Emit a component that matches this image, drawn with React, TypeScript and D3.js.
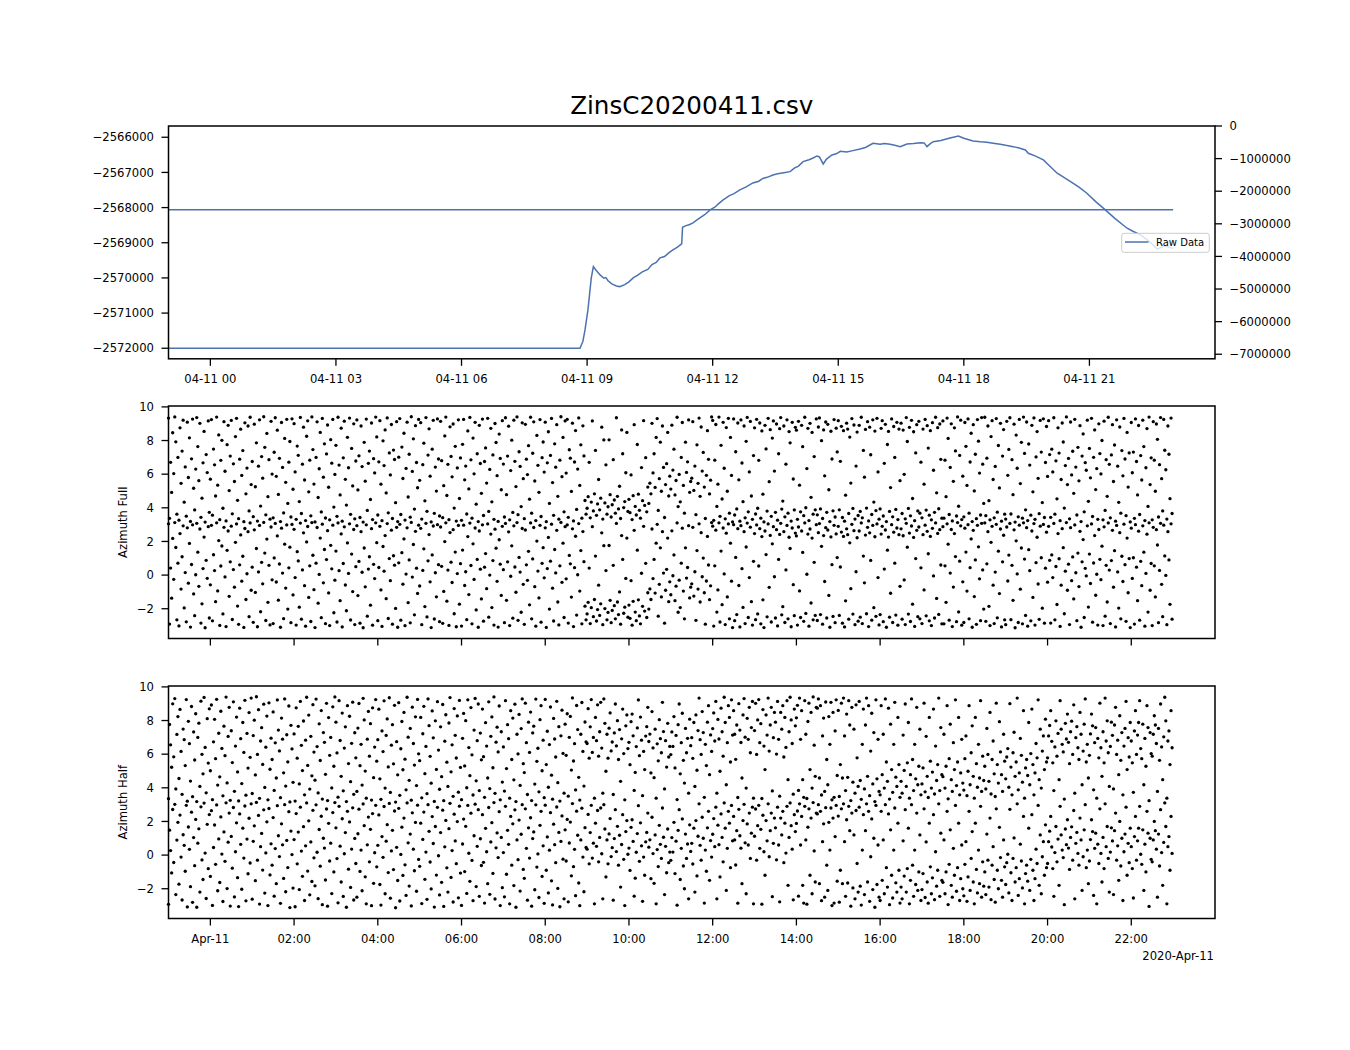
import React from "react"
import * as d3 from "d3"

// Raw data trace: hours since 2020-04-11 00:00 (UTC) and raw values
const rawHours = [
  -1.0, 8.83, 8.9, 8.95, 9.02, 9.1, 9.15, 9.2, 9.31, 9.4, 9.45, 9.5, 9.59, 9.7, 9.78, 9.9,
  10.0, 10.1, 10.2, 10.33, 10.45, 10.55, 10.65, 10.74, 10.85, 10.95, 11.05, 11.15, 11.26, 11.28,
  11.35, 11.45, 11.53, 11.65, 11.8, 11.94, 12.05, 12.15, 12.25, 12.4, 12.5, 12.65, 12.8, 12.96,
  13.1, 13.2, 13.3, 13.44, 13.55, 13.7, 13.85, 13.95, 14.05, 14.16, 14.3, 14.4, 14.49, 14.55,
  14.64, 14.72, 14.85, 14.95, 15.05, 15.2, 15.35, 15.52, 15.65, 15.83, 16.0, 16.1, 16.24, 16.35,
  16.48, 16.64, 16.8, 16.96, 17.05, 17.12, 17.2, 17.27, 17.45, 17.67, 17.87, 18.0, 18.22, 18.4,
  18.55, 18.7, 18.87, 19.0, 19.18, 19.3, 19.47, 19.54, 19.7, 19.9, 20.05, 20.23, 20.4, 20.55,
  20.75, 20.94, 21.15, 21.38, 21.6, 21.9, 22.05, 22.22, 22.45, 22.62, 22.8, 23.0,
]
const rawValues = [
  -2572000, -2572000, -2571800, -2571480, -2570910, -2570000, -2569680, -2569760, -2569915, -2570010,
  -2569990, -2570080, -2570171, -2570230, -2570247, -2570190, -2570110, -2570000, -2569930, -2569821,
  -2569760, -2569620, -2569560, -2569431, -2569390, -2569290, -2569204, -2569130, -2569033, -2568559,
  -2568520, -2568480, -2568436, -2568330, -2568210, -2568067, -2567990, -2567880, -2567783, -2567660,
  -2567610, -2567498, -2567410, -2567299, -2567250, -2567170, -2567140, -2567072, -2567040, -2567010,
  -2566978, -2566880, -2566820, -2566694, -2566640, -2566590, -2566532, -2566560, -2566759, -2566620,
  -2566503, -2566470, -2566400, -2566418, -2566380, -2566333, -2566290, -2566171, -2566200, -2566180,
  -2566199, -2566230, -2566267, -2566190, -2566180, -2566154, -2566160, -2566267, -2566180, -2566125,
  -2566090, -2566020, -2565963, -2566030, -2566105, -2566130, -2566142, -2566170, -2566199, -2566230,
  -2566267, -2566300, -2566361, -2566455, -2566530, -2566645, -2566820, -2567023, -2567150, -2567262,
  -2567420, -2567592, -2567830, -2568067, -2568300, -2568587, -2568680, -2568778, -2568980, -2569180,
  -2569090, -2569160,
]

// Azimuth samples (radians, -pi..pi), one every 90 s from 2020-04-10 23:00 (UTC)
const azimuthFull = [
  3.05, -2.91, 0.42, -1.37, 2.18, -0.25, 3.12, 1.64, -2.66, 0.71, -3.02, 2.47, -0.83, 1.09, 2.93, -1.95, 0.15, -2.78, 2.81, -0.48,
  1.88, -3.09, 0.63, 2.99, -1.12, -2.41, 0.02, 3.08, 1.36, -0.67, 2.74, -2.85, -1.71, 0.39, 2.26, -3.13, 0.88, -0.19, 2.88, -2.55,
  -0.58, 2.96, -2.72, 1.21, 0.27, -1.58, 3.11, -0.94, 2.05, -2.99, 0.54, 1.73, -2.31, 2.84, -0.11, -3.06, 1.47, 2.62, -1.26, 0.79,
  2.91, -2.64, 0.33, -0.72, 1.95, 3.04, -1.84, -2.93, 0.61, 2.39, -0.36, 1.12, -3.11, 2.77, -1.45, 0.08, 2.58, -2.47, 3.1, -0.9,
  0.47, -2.81, 2.69, -1.03, 1.58, -3.07, 0.19, 2.95, -2.18, 0.76, -0.52, 3.13, 1.31, -2.7, 2.14, -1.62, 0.58, -2.96, 2.86, -0.28,
  -2.88, 1.02, 3.07, -0.41, 2.33, -1.49, 0.66, -3.1, 2.79, 0.12, -2.59, 1.84, -0.77, 2.98, -2.02, 0.43, 1.66, -2.83, 3.01, -1.18,
  2.72, -0.15, -2.97, 1.39, 0.84, -1.91, 3.09, -2.62, 0.31, 2.51, -0.63, -3.04, 1.97, 2.89, -1.33, 0.55, -2.76, 3.12, 1.18, -0.87,
  -3.12, 0.71, 2.83, -1.67, 0.04, 2.2, -2.53, 3.03, -0.46, 1.52, -2.89, 0.92, 2.64, -1.06, -3.0, 1.77, 0.37, 2.97, -2.24, -0.3,
  1.43, -2.79, 3.1, 0.26, -1.52, 2.45, -3.08, 0.69, 2.87, -0.59, -2.12, 1.91, 0.1, 3.05, -2.67, 1.25, -0.98, 2.71, -2.94, 0.5,
  2.94, -1.22, 0.81, -2.86, 2.58, 0.17, -3.13, 1.61, -0.7, 2.99, -2.44, 0.36, 1.09, -1.79, 2.76, -2.98, 0.64, -0.21, 3.11, 1.93,
  -2.71, 0.45, 2.9, -0.88, -3.05, 1.7, 0.23, 2.35, -1.4, 3.06, -2.58, 0.98, -0.33, 2.67, -2.92, 1.15, 0.59, -1.98, 2.84, -3.1,
  0.73, 3.02, -2.68, 1.33, -0.54, 2.15, -3.01, 0.06, 2.81, -1.64, 0.9, -2.84, 3.13, -0.12, 1.82, -2.36, 2.6, 0.41, -1.09, 2.97,
  -0.65, 2.78, -2.95, 0.28, 1.56, -1.87, 3.08, -2.49, 0.85, 2.41, -0.4, -3.12, 1.2, 2.92, -2.61, 0.14, -1.29, 3.0, 0.62, -2.77,
  2.86, 0.52, -2.87, -0.97, 1.99, 3.11, -1.55, 0.3, -2.99, 2.53, 0.77, -0.44, 2.7, -2.3, 1.37, -3.07, 0.09, 2.95, -1.73, 0.68,
  -3.03, 1.49, 2.97, -0.62, 0.2, -2.65, 2.29, -1.16, 3.09, 0.57, -2.9, 1.86, -0.26, 2.8, -2.07, 0.93, -3.1, 2.62, 0.35, -1.42,
  2.99, -2.74, 0.47, 1.28, -0.81, 3.04, -2.5, 0.0, 2.44, -1.93, 0.86, -2.97, 2.73, 1.6, -0.37, -3.09, 2.1, 0.65, -1.21, 2.9,
  0.32, -2.83, 3.07, -1.5, 0.79, 2.57, -3.0, -0.07, 1.74, -2.56, 2.93, 0.48, -1.02, 3.12, -2.69, 1.05, 0.18, -2.21, 2.77, -0.55,
  -2.93, 2.68, 0.61, -0.31, 1.41, -1.77, 3.1, -2.6, 0.96, 2.83, -0.69, -3.04, 2.02, 0.24, -1.36, 2.96, -2.8, 0.7, 1.63, -0.16,
  2.81, -3.11, 0.39, 2.24, -2.02, 0.83, 3.03, -0.78, -2.73, 1.52, 0.13, 2.66, -1.6, -2.96, 0.55, 3.13, -0.43, 1.9, -2.52, 2.88,
  -0.22, 2.98, -2.85, 1.17, 0.67, -1.31, 2.75, -3.06, 0.44, 2.31, -2.38, 0.02, 3.06, -0.95, 1.46, -2.9, 2.59, 0.8, -1.85, -2.66,
  -2.31, -1.62, 0.42, -2.88, -1.94, 2.88, -2.47, -1.45, 1.13, -2.73, -2.05, -0.6, -2.4, -1.71, 2.51, -2.95, 1.75, -1.99, 0.27, -2.66,
  -2.22, 1.76, -1.5, -2.83, -2.1, 0.58, -1.82, -2.6, 3.07, -1.6, -2.35, -1.0, -2.92, 2.35, 0.93, -2.27, -1.91, -0.2, 2.2, -2.5,
  -1.78, -2.57, -0.33, -2.98, -1.56, 2.66, -2.2, -2.71, 1.48, -1.47, -2.43, -2.9, 0.11, -1.86, 2.9, -2.14, 0.7, -2.52, -1.05, -2.02,
  -0.82, -1.45, 2.74, -0.21, 0.93, -1.07, 1.9, 3.02, -2.44, -0.55, 1.62, -1.3, 2.58, 0.12, -2.86, -0.9, 0.34, 2.2, -1.58, -0.4,
  -1.17, 2.63, -0.04, 1.2, -1.52, -0.66, 3.1, -2.21, -0.3, -1.93, 0.71, 2.79, -0.95, -2.6, 1.62, -0.18, 0.45, 2.94, -1.36, -0.72,
  -0.52, 2.84, -1.25, 0.2, -2.69, 1.46, -0.83, 3.05, -1.6, 2.52, -0.1, 1.01, -1.05, -2.92, -0.35, 2.3, 0.6, -1.46, -0.64, 3.12,
  2.91, -3.03, 0.55, 2.67, -2.2, -0.88, 3.11, -2.79, 1.43, -1.76, 2.8, 0.07, -2.94, 2.49, -1.3, 3.04, -2.6, 1.9, -0.36, -3.12,
  3.0, -2.71, 1.05, -2.35, 2.76, -0.62, -3.08, 2.94, 0.38, -1.92, 2.58, -2.88, 1.67, 3.09, -2.52, -0.15, 2.85, -1.58, -2.97, 0.82,
  2.47, -2.65, 2.98, -2.31, 0.54, 2.76, -2.9, 2.29, -1.47, -3.12, 2.62, 1.22, -2.48, 3.04, -0.73, 2.36, -2.79, 1.86, 2.88, -0.1,
  -2.55, 2.7, -3.02, 0.93, 2.42, 3.08, -2.36, -1.88, 2.58, -2.82, 0.31, 2.95, -2.6, 2.25, 1.58, -3.07, 2.8, -0.57, -2.41, 2.5,
  2.33, -2.97, 2.86, -0.94, -2.52, 2.62, 1.35, -2.75, 3.1, -2.28, 0.05, 2.44, -3.04, 2.74, -1.66, 2.2, -2.66, 0.76, -2.4, 3.0,
  -2.7, 2.52, 3.06, -2.35, 1.71, -2.92, 2.35, -0.38, 2.82, -2.55, 2.68, -1.21, -3.1, 2.27, 0.62, -2.46, 2.96, -2.83, 2.45, 1.04,
  2.9, -2.4, 0.48, 2.56, -2.86, 2.3, -3.08, -1.53, 2.75, 2.4, -2.62, 1.92, -0.81, 3.02, -2.32, 2.64, -2.95, 0.2, 2.22, -2.74,
  2.62, -2.5, 3.1, -2.88, 1.13, -0.46, 2.38, -2.3, 2.84, -3.06, 2.51, 0.87, -2.68, 2.95, -1.94, 2.28, -2.45, 3.04, -0.15, -2.96,
  -2.35, 2.44, 2.9, -2.77, 0.36, 2.68, -3.1, 1.48, 2.26, -2.5, -1.08, 3.0, -2.82, 2.55, 0.71, -2.38, 2.8, -2.98, 2.4, -0.67,
  2.75, -2.62, 2.34, -0.29, -2.94, 3.08, 1.66, -2.32, 2.5, -2.76, 2.92, -1.73, 2.24, -3.05, 0.98, 2.66, -2.47, 2.86, -2.6, 0.43,
  -2.88, 2.4, -0.88, 2.97, -2.42, 2.6, 1.27, -2.72, 2.3, -3.0, 2.78, -0.05, -2.55, 3.1, -1.39, 2.48, -2.34, 2.7, 0.6, -2.9,
  2.88, -2.9, 0.55, -1.62, 3.05, 1.84, -2.68, 0.12, 2.71, -3.06, -0.71, 2.47, 1.1, -2.77, 3.12, -2.19, 0.83, 2.93, -2.98, -0.4,
  -2.82, 2.79, 1.37, -0.95, 3.0, -2.6, 0.44, 2.15, -3.1, 2.66, -1.28, 0.9, -2.93, 2.96, 1.68, -0.22, -2.71, 3.08, 0.31, -2.02,
  3.1, -2.75, 0.67, 2.58, -1.86, -3.0, 1.95, 2.9, -0.6, -2.88, 0.18, 3.02, -2.54, 1.42, -1.1, 2.74, -3.08, 0.79, 2.37, -2.66,
  -2.95, 2.86, -0.35, 1.19, 3.07, -2.65, 0.58, -1.5, 2.69, -3.13, 2.04, 0.07, -2.82, 2.97, -0.84, 1.61, -2.9, 3.11, 0.95, -2.4,
  2.82, -3.04, 1.51, 0.26, -2.72, 2.62, -1.33, 3.06, -2.97, 0.74, 2.25, -0.53, -2.63, 2.91, 1.03, -1.97, 3.01, -2.86, 0.41, 2.55,
  -0.42, 2.9, 0.88, -2.85, 1.2, -0.15, 3.07, -2.66, 0.51, -1.75, 2.47, 0.97, -3.05, -0.6, 2.76, 1.63, -2.3, 0.23, 3.12, -0.9,
  0.65, -2.94, 2.82, -0.33, 1.08, -1.42, 2.98, 0.14, -2.71, 1.31, -0.68, 2.6, -3.1, 0.79, 2.11, -2.52, 0.4, -0.05, 2.93, -1.9,
  1.25, -0.5, 3.04, -2.8, 0.72, 2.35, -1.2, 0.05, -2.97, 2.71, 0.94, -0.27, 1.72, -3.0, 2.87, -2.44, 0.58, -1.6, 3.1, 0.3,
  -2.88, 0.86, 2.66, -0.72, 1.45, -3.08, 2.95, 0.19, -1.96, 2.52, -2.6, 1.12, -0.38, 3.03, 0.62, -2.75, 2.2, -1.05, 0.98, -3.12,
  2.79, -0.2, 1.03, -2.91, 3.0, 0.47, -1.52, 2.61, -2.68, 0.82, -0.63, 2.93, 1.36, -3.04, 0.1, 2.43, -2.2, 3.11, -0.9, 0.69,
  -3.0, 2.84, 0.55, -1.3, 2.7, 1.79, -2.83, 0.28, 3.08, -0.55, -2.47, 2.97, 1.14, -0.02, -2.95, 2.58, 0.9, -1.74, 3.05, -2.62,
]

const azimuthHalf = [
  -2.93, 1.48, 0.27, -1.06, 2.71, -0.44, 3.02, -2.35, 0.89, 1.95, -1.73, 2.38, -0.12, -2.67, 1.21, 0.58, -0.96, 2.96, -3.08, 1.67,
  0.34, -1.88, 2.55, -2.81, 1.04, -0.63, 2.12, -3.1, 0.71, 1.56, -2.2, 2.87, -0.29, -1.45, 3.09, 0.12, -2.58, 1.83, -0.81, 2.41,
  -1.27, 2.64, -2.99, 0.45, 1.79, -0.55, 2.98, -2.12, 0.96, -1.63, 2.27, 0.06, -2.76, 1.38, -0.37, 3.11, -1.99, 0.77, 2.5, -3.03,
  1.11, -0.78, 2.83, -2.49, 0.2, 1.92, -1.34, -3.06, 2.45, 0.64, -2.03, 1.6, -0.18, 2.92, -2.72, 0.95, -1.11, 2.19, -0.47, 3.05,
  -2.62, 0.82, 1.74, -1.52, 3.13, -0.3, 2.36, -2.91, 0.5, 1.29, -0.89, 2.69, -2.26, 0.13, 1.98, -3.0, 2.77, -1.18, 0.67, -0.6,
  2.23, -2.44, 0.39, -1.7, 2.94, 1.15, -0.09, -2.87, 1.86, 0.61, -1.39, 3.0, -2.18, 0.87, -0.74, 2.58, -3.12, 1.43, 0.03, -1.96,
  0.92, -3.07, 2.47, -0.52, 1.37, -2.05, 2.85, 0.24, -1.26, 1.69, -2.7, 0.55, 3.1, -0.95, 2.04, -2.36, 0.78, -1.57, 2.66, -0.16,
  -1.83, 2.99, 0.17, -2.59, 1.52, -0.66, 2.31, -2.95, 1.0, 0.42, -1.48, 2.74, -3.04, 1.89, -0.35, 0.71, -2.29, 2.53, -1.0, 3.12,
  1.62, -0.21, -2.84, 2.9, 0.53, -1.6, 2.16, -2.46, 0.08, 1.34, -3.1, 2.6, -0.84, 1.97, -1.92, 0.36, 2.81, -2.67, 0.99, -0.5,
  -2.5, 1.27, 2.73, -0.97, 0.3, -2.12, 3.04, 1.75, -1.29, -2.9, 0.61, 2.26, -0.4, 1.53, -3.01, 2.47, -1.68, 0.14, 2.96, -0.7,
  0.58, 2.39, -1.75, -2.97, 1.1, -0.13, 2.89, -2.3, 0.83, 1.81, -1.04, 3.07, -2.56, 0.25, 1.47, -0.86, 2.62, -3.13, 0.46, -1.51,
  2.78, -2.73, 0.04, 1.66, -1.21, 2.2, -0.58, -2.4, 3.1, 0.73, -1.84, 1.25, -3.02, 2.51, 0.35, -0.93, 1.94, -2.15, 2.97, -0.26,
  -0.67, 1.9, -2.88, 0.93, 2.56, -1.44, 0.18, -2.63, 3.0, 1.41, -0.41, -2.01, 2.29, 0.69, -3.09, 1.7, -1.19, 2.84, -0.04, -2.37,
  1.34, -1.62, 2.67, -3.05, 0.49, 2.06, -0.76, -2.2, 1.57, 3.08, -1.33, 0.27, -2.79, 2.43, 0.84, -0.51, 1.99, -2.54, 2.91, -1.07,
  -2.99, 0.66, 2.14, -0.98, 1.71, -2.28, 2.95, 0.11, -1.56, 2.49, -0.32, -2.71, 1.15, 3.03, -1.87, 0.52, 2.7, -2.45, 0.97, -0.62,
  2.4, -0.43, -2.85, 1.59, 0.2, -1.7, 2.83, -2.33, 0.78, 1.93, -1.09, 3.12, -2.61, 0.43, 1.32, -0.15, 2.58, -3.0, 1.05, -1.94,
  0.15, -2.48, 2.9, -1.14, 1.47, 0.64, -2.9, 2.3, -0.6, 1.86, -1.81, 2.69, -3.1, 0.9, -0.27, 2.08, -2.14, 1.24, 3.0, -0.85,
  -1.38, 2.75, 0.4, -2.68, 1.62, -0.18, 2.22, -3.04, 0.98, 1.38, -2.06, 2.99, -0.71, 0.07, -2.52, 1.77, 2.6, -1.27, 0.55, -2.87,
  2.97, -0.9, 1.08, -2.25, 0.29, 2.52, -1.53, -2.96, 1.84, 0.62, -0.45, 2.86, -1.98, 1.35, -3.07, 0.81, 2.33, -0.24, -2.6, 1.5,
  -0.35, 2.12, -2.78, 0.72, 1.96, -1.23, 3.06, -0.69, 0.34, -2.41, 2.61, 1.18, -1.66, -3.01, 0.9, 2.79, -0.12, -2.18, 1.63, 0.45,
  0.35, 2.42, -0.52, 1.34, 2.96, -0.18, 0.71, -2.9, 1.9, 0.52, 2.65, -0.4, 1.05, 2.8, 0.08, -2.6, 3.0, 1.55, -1.3, 0.9,
  -0.52, 1.26, 2.17, -0.09, 0.44, -2.68, 0.98, 2.7, 0.21, 1.71, -0.6, 1.18, -1.9, 0.63, 2.4, -0.25, -3.0, 1.4, 2.05, 0.05,
  0.42, -0.91, 1.65, 2.1, 0.81, -2.44, -1.37, 0.17, 1.28, 2.94, -0.37, 1.92, 0.55, -2.75, -0.12, -1.2, 0.79, 1.35, 2.5, 0.47,
  0.91, -1.4, 2.25, 0.09, -1.68, 1.2, -2.9, 0.33, -0.68, 1.77, 0.64, -0.2, 2.8, 1.06, -2.35, 0.52, -1.05, 1.55, -0.45, 0.18,
  -0.31, 1.04, 0.18, 1.95, -1.1, 0.83, -2.98, 1.47, 2.7, -1.45, 0.4, 2.15, -0.65, -2.0, 1.25, -0.2, 0.66, -2.6, 1.8, 0.22,
  0.7, -0.53, 1.6, -2.2, 2.05, -1.24, 1.12, 3.05, 0.58, -0.3, 2.25, 1.0, -2.85, 0.3, -0.96, 1.62, 2.6, -1.5, 0.86, -0.12,
  1.24, 2.17, 0.5, 2.85, -2.6, 1.78, 0.62, -1.3, 2.45, 1.05, -0.4, 3.1, 1.6, -2.1, 0.4, 2.6, 1.9, -0.75, 2.95, 0.85,
  2.3, 0.9, -0.59, 1.45, -2.86, 2.72, 1.15, 0.41, -1.7, 2.05, 3.02, 0.73, -2.3, 1.85, 0.6, 2.5, -0.2, 1.3, 2.85, -2.9,
  1.12, 2.74, -0.3, 1.75, 2.96, 0.4, 1.53, -2.92, 2.37, 0.2, -1.2, 2.05, 0.85, 3.05, -0.1, 1.45, 2.5, -2.47, 0.7, 2.2,
  1.62, -0.28, 2.85, 0.6, -2.78, 2.2, 1.2, 2.6, -0.45, 1.9, 0.12, 2.9, -1.8, 1.05, 3.1, 1.75, 0.35, -2.66, 2.4, 1.4,
  1.88, 2.62, -2.44, 3.05, 0.6, 2.3, -1.8, -2.85, 2.9, 0.9, -2.92, 1.66, 2.75, -1.2, 2.2, -2.3, 3.12, 0.25, -1.6, 2.5,
  2.45, 3.0, -1.7, 2.6, -2.71, 0.8, 1.86, -2.5, 2.82, -0.6, -2.1, 1.95, 0.3, 2.8, -3.0, 2.2, -2.85, 1.1, 2.95, -1.55,
  2.32, -2.8, -0.9, 2.75, -1.7, 3.05, 0.8, -2.45, 2.1, -1.66, 2.9, 1.45, -3.04, 2.5, -1.95, 1.2, -2.6, 2.65, -0.5, -2.2,
  2.85, -1.85, -2.97, 0.3, 2.4, -2.35, 1.45, 3.05, -1.6, 2.6, -2.75, -0.1, 2.15, -2.05, 1.0, -3.1, 2.95, -1.75, 0.6, -2.5,
  -2.7, 2.6, -1.5, 0.9, -2.3, 3.0, -0.75, -1.9, 2.45, -2.95, 1.5, -1.2, -2.55, 0.3, 2.8, -1.65, -2.2, 1.9, -0.9, -2.85,
  -1.9, -2.6, 0.85, -1.25, 2.7, -2.2, -0.8, 1.6, -2.9, -1.5, 3.0, -0.6, -2.45, 0.3, -1.75, 2.5, -2.1, -1.0, 1.2, -2.7,
  -2.05, -1.1, 2.75, -2.52, 0.78, -1.6, -2.86, 1.9, -0.7, -2.3, -1.35, 2.4, -2.65, 0.2, -1.85, -0.9, 3.05, -2.45, 1.3, -1.5,
  -1.62, 0.9, -2.3, -1.0, 2.6, -2.94, -0.55, 1.5, -1.8, -2.5, 0.4, -1.2, 2.95, -2.15, -0.75, 1.9, -2.7, -1.4, 0.6, -2.0,
  -2.42, -0.55, 0.8, -2.75, -1.3, 2.6, -2.1, -0.2, 1.4, -1.6, -2.9, 1.9, -0.85, -2.25, 0.3, -1.7, 2.9, -2.5, -0.4, -1.85,
  -1.0, -2.35, 1.25, -0.3, -1.9, 2.2, -2.65, -0.6, 0.5, -1.45, -2.8, 2.75, -0.9, -2.0, 1.65, -0.15, -1.5, -2.5, 0.9, -0.7,
  -1.75, -0.45, 0.05, -2.25, 2.72, -1.05, -2.7, -0.2, 1.02, -1.6, -0.75, 3.05, -2.4, -1.4, 0.65, -0.35, -1.95, 2.3, -2.9, -1.1,
  -0.6, -1.55, 1.6, -2.1, -0.25, 2.4, -0.9, -2.7, -1.4, 0.35, -0.5, 2.95, -1.8, 1.2, -2.3, -0.1, 0.8, -1.2, 1.8, -0.75,
  -0.5, 0.8, 1.42, 2.3, 0.48, -0.8, -2.45, 0.15, 1.7, -0.4, 0.95, -1.8, 2.9, 1.2, 0.3, -0.15, -2.95, 1.55, 0.62, 2.1,
  0.42, -0.85, 1.05, 1.68, -0.3, 2.65, -2.6, 0.7, 1.35, 0.1, -0.6, 2.2, 0.9, -2.1, -0.1, 1.5, 3.0, -0.75, 0.3, -1.7,
  -0.35, 0.92, 2.1, 1.4, -2.4, 0.4, 1.3, -2.9, 0.65, -0.5, 2.75, 0.1, -1.6, 1.05, -0.8, 3.05, 0.5, 1.7, -0.2, -2.2,
  0.18, 1.62, 0.84, -2.35, 1.45, 2.5, -0.3, 0.55, -1.5, 2.0, -0.65, 1.0, -2.7, 0.2, 1.25, 2.85, -1.2, 0.7, -0.45, 1.6,
  0.5, -0.8, -2.55, 1.1, 2.3, -0.3, 0.85, 1.6, 2.9, 0.05, -0.55, 1.5, -2.1, 0.65, -1.0, 2.6, 1.3, -3.05, 1.0, -0.25,
  -0.4, 0.9, 2.0, 1.45, 0.35, -2.5, 1.25, -0.65, 2.7, 0.15, -1.8, 0.75, 3.1, 1.7, -2.9, 0.5, 1.1, -0.9, 2.3, 0.1,
]

const rawTicks = [-2566000, -2567000, -2568000, -2569000, -2570000, -2571000, -2572000]
const rightTicks = [0, -1000000, -2000000, -3000000, -4000000, -5000000, -6000000, -7000000]
const azTicks = [-2, 0, 2, 4, 6, 8, 10]

const sampleStart = Date.UTC(2020, 3, 10, 23, 0)
const sampleStepMs = 90 * 1000
const dayStart = Date.UTC(2020, 3, 11, 0, 0)

const FONT = "DejaVu Sans"
const BLUE = "#4c72b0"
const LEFT = 168.5
const RIGHT = 1215
const panels = { top: [126, 358.8], mid: [406, 638.5], bot: [686, 918.5] }

const x = d3.scaleUtc()
  .domain([new Date(Date.UTC(2020, 3, 10, 23)), new Date(Date.UTC(2020, 3, 12, 0))])
  .range([LEFT, RIGHT])

const yRaw = d3.scaleLinear().domain([-2572300, -2565680]).range([panels.top[1], panels.top[0]])
const yRight = d3.scaleLinear().domain([-7140000, 0]).range([panels.top[1], panels.top[0]])

const fmtInt = d3.format("d")
const fmtTop = d3.utcFormat("%m-%d %H")
const fmtBot = (d: Date) => d.getUTCHours() === 0 ? d3.utcFormat("%b-%d")(d) : d3.utcFormat("%H:%M")(d)

const topTicks = d3.utcHour.every(3)!.range(new Date(dayStart), new Date(Date.UTC(2020, 3, 11, 22)))
const botTicks = d3.utcHour.every(2)!.range(new Date(dayStart), new Date(Date.UTC(2020, 3, 11, 23)))

const rawSeries = rawHours.map((h, i) => ({ t: new Date(dayStart + h * 3600e3), v: rawValues[i] }))

const Frame = ({ y0, y1 }: { y0: number, y1: number }) => (
  <rect x={LEFT} y={y0} width={RIGHT - LEFT} height={y1 - y0} fill="none" stroke="#000" strokeWidth={1.5} />
)

const XTicks = ({ y1, ticks, fmt }: { y1: number, ticks: Date[], fmt?: (d: Date) => string }) => (
  <g>
    {ticks.map((t, i) => (
      <g key={i} transform={`translate(${x(t)},${y1})`}>
        <line y1={0} y2={7} stroke="#000" strokeWidth={1.3} />
        {fmt && <text y={24} textAnchor="middle" fontSize={11.6}>{fmt(t)}</text>}
      </g>
    ))}
  </g>
)

const YTicks = ({ scale, ticks, side }: { scale: d3.ScaleLinear<number, number>, ticks: number[], side: "left" | "right" }) => (
  <g>
    {ticks.map((v, i) => {
      const y = scale(v)
      return side === "left" ? (
        <g key={i}>
          <line x1={LEFT} x2={LEFT - 7} y1={y} y2={y} stroke="#000" strokeWidth={1.3} />
          <text x={LEFT - 14.5} y={y} dy="0.36em" textAnchor="end" fontSize={11.6}>{fmtInt(v)}</text>
        </g>
      ) : (
        <g key={i}>
          <line x1={RIGHT} x2={RIGHT + 7} y1={y} y2={y} stroke="#000" strokeWidth={1.3} />
          <text x={RIGHT + 14.5} y={y} dy="0.36em" textAnchor="start" fontSize={11.6}>{fmtInt(v)}</text>
        </g>
      )
    })}
  </g>
)

// each angle is drawn twice: as is and shifted by a full turn
const AzimuthPanel = ({ values, y0, y1, label }: { values: number[], y0: number, y1: number, label: string }) => {
  const y = d3.scaleLinear().domain([-3.77, 10.053]).range([y1, y0])
  return (
    <g>
      <g fill="#000">
        {values.map((v, i) => {
          const cx = x(new Date(sampleStart + i * sampleStepMs))
          return (
            <React.Fragment key={i}>
              <circle cx={cx} cy={y(v)} r={1.65} />
              <circle cx={cx} cy={y(v + 2 * Math.PI)} r={1.65} />
            </React.Fragment>
          )
        })}
      </g>
      <Frame y0={y0} y1={y1} />
      <YTicks scale={y} ticks={azTicks} side="left" />
      <text transform={`translate(127,${(y0 + y1) / 2}) rotate(-90)`} textAnchor="middle" fontSize={11.6}>{label}</text>
    </g>
  )
}

export default function App() {
  const leftPath = d3.line<{ t: Date, v: number }>().x(d => x(d.t)).y(d => yRaw(d.v))(rawSeries) ?? ""
  const rightPath = d3.line<{ t: Date, v: number }>().x(d => x(d.t)).y(d => yRight(d.v))(rawSeries) ?? ""
  const [t0, t1] = panels.top

  return (
    <svg width={1350} height={1050} style={{ position: "absolute", left: 0, top: 0, background: "#fff" }}
      fontFamily={FONT}>
      <rect width={1350} height={1050} fill="#fff" />
      <text x={(LEFT + RIGHT) / 2} y={114} textAnchor="middle" fontSize={24.6}>ZinsC20200411.csv</text>

      {/* top panel: raw data on two y scales */}
      <path d={leftPath} fill="none" stroke={BLUE} strokeWidth={1.5} />
      <path d={rightPath} fill="none" stroke={BLUE} strokeWidth={1.5} />
      <Frame y0={t0} y1={t1} />
      <YTicks scale={yRaw} ticks={rawTicks} side="left" />
      <YTicks scale={yRight} ticks={rightTicks} side="right" />
      <XTicks y1={t1} ticks={topTicks} fmt={fmtTop} />
      <g>
        <rect x={1121.7} y={233.3} width={87.6} height={19} rx={2.5} fill="#fff" fillOpacity={0.8} stroke="#cccccc" strokeWidth={1} />
        <line x1={1125} x2={1148.5} y1={242} y2={242} stroke={BLUE} strokeWidth={1.5} />
        <text x={1156} y={245.6} fontSize={10}>Raw Data</text>
      </g>

      <AzimuthPanel values={azimuthFull} y0={panels.mid[0]} y1={panels.mid[1]} label="Azimuth Full" />
      <XTicks y1={panels.mid[1]} ticks={botTicks} />

      <AzimuthPanel values={azimuthHalf} y0={panels.bot[0]} y1={panels.bot[1]} label="Azimuth Half" />
      <XTicks y1={panels.bot[1]} ticks={botTicks} fmt={fmtBot} />
      <text x={1214} y={960} textAnchor="end" fontSize={11.6}>2020-Apr-11</text>
    </svg>
  )
}
